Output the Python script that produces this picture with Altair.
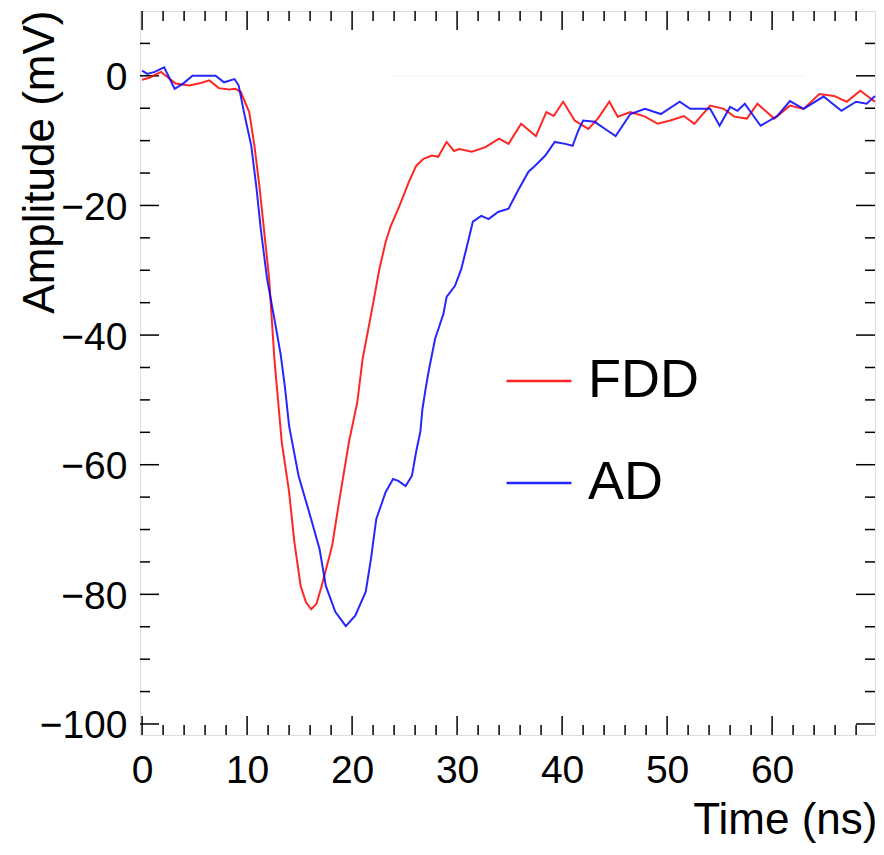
import altair as alt
import pandas as pd

# ---- data ----
fdd_t = [0.0, 0.7, 1.8, 3.2, 4.5, 5.6, 6.4, 7.3, 8.3, 8.9, 9.4, 10.2, 10.7, 11.2, 11.6,
         12.1, 12.6, 13.3, 14.0, 14.5, 15.1, 15.6, 16.1, 16.6, 17.1, 18.1, 18.8, 19.7,
         20.5, 21.0, 21.9, 22.6, 23.2, 23.7, 24.5, 25.4, 26.1, 26.8, 27.6, 28.2, 29.0,
         29.7, 30.2, 31.4, 32.7, 34.0, 34.9, 36.1, 37.5, 38.5, 39.2, 40.1, 41.2, 42.5,
         43.4, 44.5, 45.3, 46.5, 47.9, 49.1, 50.3, 51.6, 52.6, 54.1, 55.4, 56.4, 57.6,
         58.6, 60.2, 61.7, 63.0, 64.5, 65.9, 67.1, 68.4, 69.8]
fdd_v = [-0.6, -0.3, 0.6, -1.2, -1.5, -1.1, -0.7, -1.9, -2.1, -2.0, -2.5, -5.6, -10.8, -17.4,
         -23.6, -31.3, -43.7, -56.5, -64.2, -71.9, -78.7, -81.2, -82.3, -81.5, -78.7, -72.5,
         -65.3, -56.5, -50.3, -43.7, -36.0, -29.8, -25.6, -23.1, -20.1, -16.4, -13.9, -12.8,
         -12.3, -12.5, -10.2, -11.6, -11.3, -11.7, -11.0, -9.7, -10.5, -7.4, -9.3, -5.6,
         -6.2, -4.0, -6.9, -8.2, -6.6, -4.0, -6.3, -5.6, -6.3, -7.4, -6.9, -6.2, -7.4,
         -4.6, -5.1, -6.3, -6.6, -4.3, -6.6, -4.6, -5.1, -2.8, -3.1, -4.0, -2.3, -4.0]

ad_t = [0.0, 0.5, 1.2, 2.1, 3.1, 3.9, 4.8, 6.1, 7.0, 7.8, 8.8, 9.2, 9.7, 10.4, 10.9, 11.3,
        11.9, 12.6, 13.2, 13.6, 14.0, 14.9, 16.1, 16.9, 17.5, 18.4, 19.4, 20.3, 21.3, 21.8,
        22.3, 23.2, 23.9, 24.4, 25.1, 25.7, 26.1, 26.5, 26.7, 27.0, 27.3, 27.9, 28.7, 29.0,
        29.8, 30.4, 31.1, 31.5, 32.3, 33.0, 33.9, 34.9, 35.8, 36.8, 37.4, 38.4, 39.3, 40.3,
        41.0, 41.5, 42.0, 43.1, 44.1, 45.1, 46.5, 47.9, 49.4, 51.2, 52.2, 54.1, 55.0, 56.0,
        56.7, 57.4, 58.9, 60.5, 61.7, 63.0, 64.9, 66.6, 68.0, 69.0, 69.8]
ad_v = [0.8, 0.3, 0.6, 1.3, -2.0, -1.2, 0.0, 0.0, 0.0, -1.0, -0.5, -1.5, -5.6, -10.8, -17.4,
        -23.6, -31.3, -37.5, -43.0, -48.0, -54.0, -61.7, -68.4, -73.0, -78.7, -82.7, -84.9,
        -83.3, -79.6, -74.5, -68.4, -64.2, -62.2, -62.5, -63.3, -61.7, -58.0, -54.9, -51.4,
        -48.3, -45.5, -40.6, -36.7, -34.1, -32.4, -29.8, -25.2, -22.5, -21.6, -22.1, -21.0,
        -20.5, -17.7, -14.8, -13.9, -12.3, -10.2, -10.5, -10.8, -8.6, -6.9, -7.1, -8.2,
        -9.3, -5.9, -5.1, -5.9, -4.0, -5.1, -5.1, -7.7, -4.8, -5.4, -4.3, -7.7, -6.2, -3.9,
        -5.1, -3.2, -5.4, -4.0, -4.3, -3.1]

series_names = ["FDD", "AD"]
series_colors = ["#ff0000", "#0000ff"]

x_labels = [0, 10, 20, 30, 40, 50, 60]
y_labels = [0, -20, -40, -60, -80, -100]
x_minor = [v for v in range(2, 70, 2) if v % 10 != 0]
y_minor = [v for v in range(-100, 10, 5) if v % 20 != 0]
zero_line_t = [23.7, 63.0]

# ---- layout ----
W, H = 735, 724
FONT = "Liberation Sans"
xs = alt.Scale(domain=[-0.2, 69.8], nice=False, zero=False)
ys = alt.Scale(domain=[-101.7, 10.0], nice=False, zero=False)
cs = alt.Scale(domain=series_names, range=series_colors)

fdd = pd.DataFrame({"t": fdd_t, "v": fdd_v, "series": "FDD"})
ad = pd.DataFrame({"t": ad_t, "v": ad_v, "series": "AD"})

x_axis = alt.Axis(values=x_labels, title="Time (ns)", grid=False, ticks=False, tickSize=0,
                  domain=False, labelFontSize=39, labelFont=FONT, labelColor="black",
                  labelBaseline="alphabetic", labelPadding=47, labelFlush=False,
                  titleFontSize=44, titleFont=FONT, titleFontWeight="normal", titleColor="black",
                  titleAnchor="end", titleAlign="right", titleBaseline="alphabetic",
                  titleX=W + 2, titleY=98)
y_axis = alt.Axis(values=y_labels, title="Amplitude (mV)", grid=False, ticks=False, tickSize=0,
                  domain=False, labelFontSize=39, labelFont=FONT, labelColor="black",
                  labelPadding=13, labelFlush=False, labelOffset=2,
                  titleFontSize=44, titleFont=FONT, titleFontWeight="normal", titleColor="black",
                  titleAngle=270, titleAlign="right", titleBaseline="alphabetic",
                  titleX=-87, titleY=-1)

legend = alt.Legend(title=None, orient="none", legendX=365, legendY=336, direction="vertical",
                    symbolType="stroke", symbolSize=4225, symbolStrokeWidth=2.5,
                    labelFontSize=54, labelFont=FONT, labelColor="black",
                    labelOffset=15, rowPadding=41, padding=0)

zero_df = pd.DataFrame({"t": [zero_line_t[0]], "t2": [zero_line_t[1]], "v": [0.0]})
zero_line = alt.Chart(zero_df).mark_rule(color="#f3f3f3", strokeWidth=1).encode(
    x=alt.X("t:Q", scale=xs, axis=x_axis), x2="t2:Q", y=alt.Y("v:Q", scale=ys, axis=y_axis))

line_fdd = alt.Chart(fdd).mark_line(strokeWidth=2, opacity=0.85).encode(
    x=alt.X("t:Q", scale=xs), y=alt.Y("v:Q", scale=ys),
    color=alt.Color("series:N", scale=cs, legend=legend))
line_ad = alt.Chart(ad).mark_line(strokeWidth=2, opacity=0.85).encode(
    x=alt.X("t:Q", scale=xs), y=alt.Y("v:Q", scale=ys),
    color=alt.Color("series:N", scale=cs, legend=legend))

tick_color = "black"
xmaj = pd.DataFrame({"t": x_labels})
xmin = pd.DataFrame({"t": x_minor})
ymaj = pd.DataFrame({"v": y_labels})
ymin = pd.DataFrame({"v": y_minor})

def xticks(df, length):
    b = alt.Chart(df).mark_rule(color=tick_color, strokeWidth=1.5).encode(
        x=alt.X("t:Q", scale=xs), y=alt.value(H), y2=alt.value(H - length))
    t = alt.Chart(df).mark_rule(color=tick_color, strokeWidth=1.5).encode(
        x=alt.X("t:Q", scale=xs), y=alt.value(0), y2=alt.value(length))
    return [b, t]

def yticks(df, length):
    l = alt.Chart(df).mark_rule(color=tick_color, strokeWidth=1.5).encode(
        y=alt.Y("v:Q", scale=ys), x=alt.value(0), x2=alt.value(length))
    r = alt.Chart(df).mark_rule(color=tick_color, strokeWidth=1.5).encode(
        y=alt.Y("v:Q", scale=ys), x=alt.value(W - length), x2=alt.value(W))
    return [l, r]

layers = [zero_line] + xticks(xmaj, 19) + xticks(xmin, 10) + yticks(ymaj, 19) + yticks(ymin, 10) + [line_fdd, line_ad]

chart = alt.layer(*layers).properties(
    width=W, height=H,
    padding={"left": 132, "top": 3, "right": 1, "bottom": 108},
    autosize=alt.AutoSizeParams(type="none"),
).configure_view(stroke="black", strokeWidth=1.5).configure(background="white")

chart.save("out.html", embed_options={"renderer": "svg", "actions": False})
